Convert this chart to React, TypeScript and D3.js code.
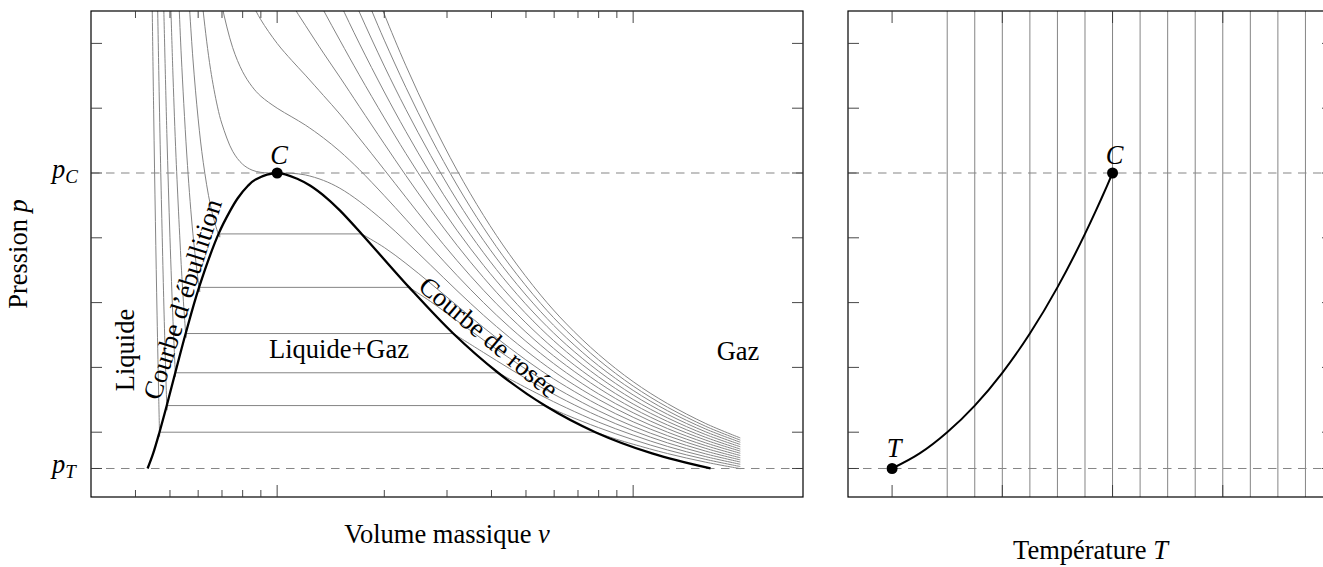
import React from "react";
import * as d3 from "d3";

type Pt = [number, number];

// Isotherm temperatures (reduced)
const T_ISO = [0.7, 0.75, 0.8, 0.85, 0.9, 0.95, 1.0, 1.05, 1.1, 1.15, 1.2, 1.25, 1.3, 1.35, 1.4];

// Isotherms [v, p] (v: specific volume, p: pressure)
const iso070: Pt[] = [[0.445, 1.566], [0.45, 1.185], [0.455, 0.851], [0.46, 0.559], [0.465, 0.303], [0.4675, 0.187], [0.4675, 0.2], [7.83, 0.2], [9, 0.178], [10, 0.163], [12.5, 0.134], [16, 0.1074], [20, 0.0874]];
const iso075: Pt[] = [[0.46, 1.612], [0.465, 1.316], [0.47, 1.053], [0.48, 0.616], [0.485, 0.433], [0.4901, 0.268], [0.4901, 0.2822], [5.65, 0.2822], [6.5, 0.253], [8, 0.214], [10, 0.177], [12.5, 0.145], [16, 0.116], [20, 0.094]];
const iso080: Pt[] = [[0.48, 1.524], [0.49, 1.122], [0.5, 0.8], [0.51, 0.541], [0.518, 0.372], [0.518, 0.3834], [4.175, 0.3834], [4.5, 0.364], [5.5, 0.314], [6.5, 0.275], [8, 0.231], [10, 0.191], [12.5, 0.156], [16, 0.1245], [20, 0.101]];
const iso085: Pt[] = [[0.5, 1.6], [0.51, 1.296], [0.52, 1.048], [0.54, 0.68], [0.55, 0.545], [0.5545, 0.492], [0.5545, 0.5045], [3.124, 0.5045], [3.8, 0.446], [4.5, 0.396], [5.5, 0.3395], [6.5, 0.2965], [8, 0.249], [10, 0.2045], [12.5, 0.167], [16, 0.133], [20, 0.108]];
const iso090: Pt[] = [[0.52, 1.762], [0.53, 1.523], [0.54, 1.325], [0.56, 1.023], [0.58, 0.812], [0.6, 0.667], [0.606, 0.633], [0.606, 0.647], [2.349, 0.647], [2.7, 0.603], [3.2, 0.544], [3.8, 0.4845], [4.5, 0.428], [5.5, 0.365], [6.5, 0.318], [8, 0.266], [10, 0.218], [12.5, 0.178], [16, 0.1415], [20, 0.1145]];
const iso095: Pt[] = [[0.56, 1.611], [0.58, 1.352], [0.6, 1.167], [0.62, 1.033], [0.65, 0.899], [0.68, 0.819], [0.69, 0.802], [0.69, 0.812], [1.727, 0.812], [2, 0.77], [2.3, 0.721], [2.7, 0.659], [3.2, 0.591], [3.8, 0.523], [4.5, 0.46], [5.5, 0.391], [6.5, 0.34], [8, 0.2835], [10, 0.232], [12.5, 0.189], [16, 0.15], [20, 0.121]];
const iso100: Pt[] = [[0.6, 1.667], [0.62, 1.498], [0.65, 1.32], [0.68, 1.204], [0.7, 1.151], [0.75, 1.067], [0.8, 1.027], [0.85, 1.009], [0.9, 1.002], [1, 1], [1.1, 0.999], [1.2, 0.994], [1.35, 0.977], [1.5, 0.953], [1.7, 0.913], [2, 0.85], [2.3, 0.789], [2.7, 0.7155], [3.2, 0.637], [3.8, 0.561], [4.5, 0.492], [5.5, 0.417], [6.5, 0.361], [8, 0.301], [10, 0.246], [12.5, 0.2], [16, 0.1585], [20, 0.128]];
const iso105: Pt[] = [[0.65, 1.741], [0.68, 1.589], [0.7, 1.515], [0.75, 1.387], [0.8, 1.3125], [0.85, 1.267], [0.9, 1.237], [1, 1.2], [1.1, 1.173], [1.2, 1.148], [1.35, 1.108], [1.5, 1.067], [1.7, 1.011], [2, 0.93], [2.3, 0.857], [2.7, 0.772], [3.2, 0.684], [3.8, 0.6], [4.5, 0.524], [5.5, 0.443], [6.5, 0.383], [8, 0.318], [10, 0.26], [12.5, 0.211], [16, 0.167], [20, 0.135]];
const iso110: Pt[] = [[0.75, 1.707], [0.8, 1.598], [0.85, 1.525], [0.9, 1.473], [1, 1.4], [1.1, 1.347], [1.2, 1.302], [1.35, 1.239], [1.5, 1.182], [1.7, 1.108], [2, 1.01], [2.3, 0.925], [2.7, 0.828], [3.2, 0.73], [3.8, 0.638], [4.5, 0.556], [5.5, 0.4685], [6.5, 0.405], [8, 0.336], [10, 0.2735], [12.5, 0.222], [16, 0.1755], [20, 0.1417]];
const iso115: Pt[] = [[0.9, 1.708], [1, 1.6], [1.1, 1.521], [1.2, 1.456], [1.35, 1.37], [1.5, 1.296], [1.7, 1.206], [2, 1.09], [2.3, 0.992], [2.7, 0.8845], [3.2, 0.777], [3.8, 0.677], [4.5, 0.588], [5.5, 0.494], [6.5, 0.426], [8, 0.353], [10, 0.287], [12.5, 0.233], [16, 0.184], [20, 0.148]];
const iso120: Pt[] = [[1.1, 1.695], [1.2, 1.609], [1.35, 1.502], [1.5, 1.41], [1.7, 1.303], [2, 1.17], [2.3, 1.06], [2.7, 0.941], [3.2, 0.823], [3.8, 0.715], [4.5, 0.62], [5.5, 0.52], [6.5, 0.448], [8, 0.3705], [10, 0.301], [12.5, 0.244], [16, 0.1925], [20, 0.155]];
const iso125: Pt[] = [[1.2, 1.763], [1.35, 1.633], [1.5, 1.525], [1.7, 1.401], [2, 1.25], [2.3, 1.128], [2.7, 0.997], [3.2, 0.87], [3.8, 0.754], [4.5, 0.652], [5.5, 0.546], [6.5, 0.4695], [8, 0.388], [10, 0.315], [12.5, 0.255], [16, 0.201], [20, 0.162]];
const iso130: Pt[] = [[1.35, 1.764], [1.5, 1.639], [1.7, 1.498], [2, 1.33], [2.3, 1.196], [2.7, 1.054], [3.2, 0.916], [3.8, 0.792], [4.5, 0.684], [5.5, 0.572], [6.5, 0.491], [8, 0.405], [10, 0.329], [12.5, 0.266], [16, 0.2096], [20, 0.169]];
const iso135: Pt[] = [[1.5, 1.753], [1.7, 1.596], [1.85, 1.497], [2, 1.41], [2.3, 1.264], [2.7, 1.11], [3.2, 0.963], [3.8, 0.831], [4.5, 0.716], [5.5, 0.5975], [6.5, 0.513], [8, 0.423], [10, 0.3425], [12.5, 0.277], [16, 0.218], [20, 0.1756]];
const iso140: Pt[] = [[1.7, 1.693], [1.85, 1.585], [2, 1.49], [2.3, 1.331], [2.7, 1.166], [3.2, 1.009], [3.8, 0.869], [4.5, 0.748], [5.5, 0.623], [6.5, 0.534], [8, 0.44], [10, 0.356], [12.5, 0.288], [16, 0.2266], [20, 0.1823]];

const ISOTHERMS: Pt[][] = [iso070, iso075, iso080, iso085, iso090, iso095, iso100, iso105, iso110, iso115, iso120, iso125, iso130, iso135, iso140];

// Saturation dome (boiling curve then dew curve)
const BINODAL: Pt[] = [
  [0.4326, 0.088], [0.4485, 0.1345], [0.4672, 0.2], [0.4897, 0.2822], [0.5174, 0.3834], [0.5534, 0.5045],
  [0.6034, 0.647], [0.6845, 0.812], [0.739, 0.8845], [0.775, 0.922], [0.828, 0.9605], [0.87, 0.98], [1, 1],
  [1.15, 0.98], [1.24, 0.9605], [1.38, 0.922], [1.5, 0.8845], [1.727, 0.812], [2.349, 0.647], [3.124, 0.5045],
  [4.175, 0.3834], [5.65, 0.2822], [7.83, 0.2], [11.3, 0.1345], [16.5, 0.088],
];

// Vaporisation curve p(T)
const SAT_T = [0.6, 0.65, 0.7, 0.75, 0.8, 0.85, 0.9, 0.95, 0.97, 0.98, 0.99, 1.0];
const SAT_P = [0.088, 0.1345, 0.2, 0.2822, 0.3834, 0.5045, 0.647, 0.812, 0.8845, 0.922, 0.9605, 1.0];

const P_C = 1.0;
const P_T = 0.088;
const V_C = 1.0;
const T_C = 1.0;
const T_TR = 0.6;

const Y_TICKS = [0.2, 0.4, 0.6, 0.8, 1.0, 1.2, 1.4, P_T];
const X_MAJOR = [1, 10];
const X_MINOR = [0.4, 0.5, 0.6, 0.7, 0.8, 0.9, 2, 3, 4, 5, 6, 7, 8, 9];
const T_TICKS = [0.6, 0.8, 1.0, 1.2];

const FONT = "'Liberation Serif', 'DejaVu Serif', serif";
const GRAY = "#858585";

export default function App() {
  const L = { x0: 91, x1: 803, y0: 11, y1: 497 };
  const R = { x0: 848, x1: 1333, y0: 11, y1: 497 };

  const xV = d3.scaleLog().domain([0.3, 30]).range([L.x0, L.x1]);
  const yP = d3.scaleLinear().domain([0, 1.5]).range([L.y1, L.y0]);
  const xT = d3.scaleLinear().domain([0.52, 1.4]).range([R.x0, R.x1]);

  const smooth = d3.line<Pt>().curve(d3.curveCatmullRom.alpha(0.5));
  const straight = d3.line<Pt>();

  const isoPaths = (pts: Pt[]): string[] => {
    const px: Pt[] = pts.map(([v, p]) => [xV(v), yP(p)]);
    const out: string[] = [];
    let run: Pt[] = [px[0]];
    for (let i = 1; i < pts.length; i++) {
      const flat = pts[i][1] === pts[i - 1][1] || pts[i][0] === pts[i - 1][0];
      if (flat) {
        if (run.length > 1) out.push(smooth(run) as string);
        out.push(straight([px[i - 1], px[i]]) as string);
        run = [px[i]];
      } else {
        run.push(px[i]);
      }
    }
    if (run.length > 1) out.push(smooth(run) as string);
    return out;
  };

  const binodalPath = smooth(BINODAL.map(([v, p]) => [xV(v), yP(p)] as Pt)) as string;
  const satPath = d3
    .line<number>()
    .x((_, i) => xT(SAT_T[i]))
    .y((d) => yP(d))
    .curve(d3.curveMonotoneX)(SAT_P) as string;

  const fs = 26.5;

  const yTickEls = (x0: number, x1: number) =>
    Y_TICKS.map((t, i) => (
      <g key={"yt" + x0 + i} stroke="#333" strokeWidth={0.9}>
        <line x1={x0} x2={x0 + 11} y1={yP(t)} y2={yP(t)} />
        <line x1={x1} x2={x1 - 11} y1={yP(t)} y2={yP(t)} />
      </g>
    ));

  return (
    <svg
      width={1323}
      height={567}
      style={{ position: "absolute", left: 0, top: 0, background: "#fff" }}
      fontFamily={FONT}
    >
      <defs>
        <clipPath id="clipL">
          <rect x={L.x0} y={L.y0} width={L.x1 - L.x0} height={L.y1 - L.y0} />
        </clipPath>
        <clipPath id="clipR">
          <rect x={R.x0} y={R.y0} width={R.x1 - R.x0} height={R.y1 - R.y0} />
        </clipPath>
      </defs>
      <rect x={0} y={0} width={1323} height={567} fill="#fff" />

      {/* ---------- Left panel: p-v diagram ---------- */}
      <g clipPath="url(#clipL)">
        {ISOTHERMS.map((iso, k) =>
          isoPaths(iso).map((d, j) => (
            <path key={"iso" + k + "_" + j} d={d} fill="none" stroke={GRAY} strokeWidth={1} />
          ))
        )}
        {[P_C, P_T].map((p) => (
          <line key={"dl" + p} x1={L.x0} x2={L.x1} y1={yP(p)} y2={yP(p)} stroke={GRAY} strokeWidth={1} strokeDasharray="8.5 6.5" />
        ))}
        <path d={binodalPath} fill="none" stroke="#000" strokeWidth={2.3} />
      </g>
      <circle cx={xV(V_C)} cy={yP(P_C)} r={5.5} fill="#000" />
      <rect x={L.x0} y={L.y0} width={L.x1 - L.x0} height={L.y1 - L.y0} fill="none" stroke="#000" strokeWidth={1.2} />
      {yTickEls(L.x0, L.x1)}
      {X_MAJOR.map((t) => (
        <g key={"xM" + t} stroke="#333" strokeWidth={0.9}>
          <line x1={xV(t)} x2={xV(t)} y1={L.y1} y2={L.y1 - 12} />
          <line x1={xV(t)} x2={xV(t)} y1={L.y0} y2={L.y0 + 12} />
        </g>
      ))}
      {X_MINOR.map((t) => (
        <g key={"xm" + t} stroke="#333" strokeWidth={0.9}>
          <line x1={xV(t)} x2={xV(t)} y1={L.y1} y2={L.y1 - 7} />
          <line x1={xV(t)} x2={xV(t)} y1={L.y0} y2={L.y0 + 7} />
        </g>
      ))}

      {/* labels left */}
      <text x={52} y={yP(P_C) + 5} fontSize={fs} fontStyle="italic">
        p<tspan fontSize={19} dy={5}>C</tspan>
      </text>
      <text x={52} y={yP(P_T) + 5} fontSize={fs} fontStyle="italic">
        p<tspan fontSize={19} dy={5}>T</tspan>
      </text>
      <text transform={`translate(27,${(L.y0 + L.y1) / 2}) rotate(-90)`} textAnchor="middle" fontSize={fs}>
        Pression <tspan fontStyle="italic">p</tspan>
      </text>
      <text x={(L.x0 + L.x1) / 2} y={543} textAnchor="middle" fontSize={fs}>
        Volume massique <tspan fontStyle="italic">v</tspan>
      </text>
      <text x={xV(V_C) + 2} y={164} textAnchor="middle" fontSize={fs} fontStyle="italic">C</text>
      <text transform="translate(134,350) rotate(-90)" textAnchor="middle" fontSize={fs}>Liquide</text>
      <text transform="translate(191,302) rotate(-72.5)" textAnchor="middle" fontSize={fs}>Courbe d’ébullition</text>
      <text x={339} y={358} textAnchor="middle" fontSize={fs}>Liquide+Gaz</text>
      <text transform="translate(483,344) rotate(40)" textAnchor="middle" fontSize={fs}>Courbe de rosée</text>
      <text x={738} y={360} textAnchor="middle" fontSize={fs}>Gaz</text>

      {/* ---------- Right panel: p-T diagram ---------- */}
      <g clipPath="url(#clipR)">
        {T_ISO.map((t) => (
          <line key={"vt" + t} x1={xT(t)} x2={xT(t)} y1={R.y0} y2={R.y1} stroke={GRAY} strokeWidth={1} />
        ))}
        {[P_C, P_T].map((p) => (
          <line key={"dr" + p} x1={R.x0} x2={R.x1} y1={yP(p)} y2={yP(p)} stroke={GRAY} strokeWidth={1} strokeDasharray="8.5 6.5" />
        ))}
        <path d={satPath} fill="none" stroke="#000" strokeWidth={2} />
      </g>
      <circle cx={xT(T_C)} cy={yP(P_C)} r={5.5} fill="#000" />
      <circle cx={xT(T_TR)} cy={yP(P_T)} r={5.5} fill="#000" />
      <rect x={R.x0} y={R.y0} width={R.x1 - R.x0} height={R.y1 - R.y0} fill="none" stroke="#000" strokeWidth={1.2} />
      {yTickEls(R.x0, R.x1)}
      {T_TICKS.map((t) => (
        <g key={"tt" + t} stroke="#333" strokeWidth={0.9}>
          <line x1={xT(t)} x2={xT(t)} y1={R.y1} y2={R.y1 - 12} />
          <line x1={xT(t)} x2={xT(t)} y1={R.y0} y2={R.y0 + 12} />
        </g>
      ))}
      <text x={xT(T_C) + 2} y={164} textAnchor="middle" fontSize={fs} fontStyle="italic">C</text>
      <text x={xT(T_TR) + 2} y={457} textAnchor="middle" fontSize={fs} fontStyle="italic">T</text>
      <text x={(R.x0 + R.x1) / 2} y={559} textAnchor="middle" fontSize={fs}>
        Température <tspan fontStyle="italic">T</tspan>
      </text>
    </svg>
  );
}
